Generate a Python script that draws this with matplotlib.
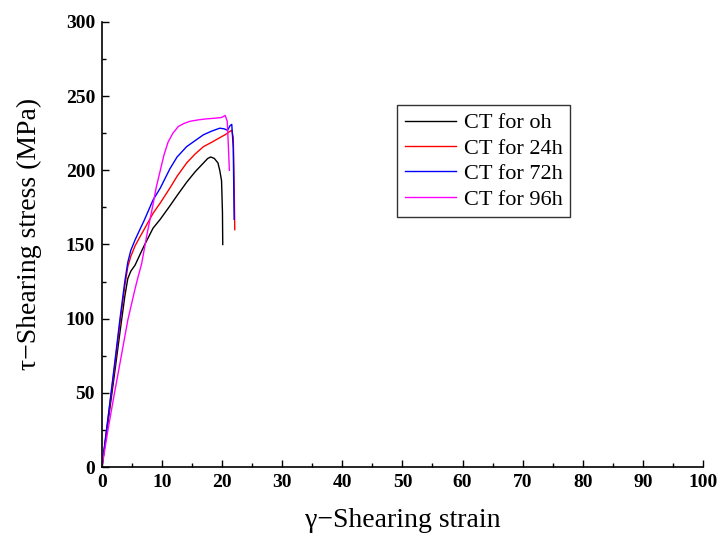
import matplotlib
matplotlib.use("Agg")
import matplotlib.pyplot as plt
from matplotlib.ticker import MultipleLocator

plt.rcParams['font.family'] = ['Liberation Serif', 'DejaVu Serif']

x_0h = [0, 1, 2, 3, 3.8, 4.3, 4.8, 5.5, 6.3, 7.0, 8.5, 9.7, 11.3, 12.5, 14.1, 15.5, 16.9, 17.6, 18.1, 18.7, 19.3, 19.6, 19.9, 20.05, 20.1]
y_0h = [0, 30, 60, 91, 115, 127, 132, 136, 143, 149, 161, 167, 176, 183, 192, 199, 205, 208, 209, 208, 205, 200, 193, 172, 150]

x_24h = [0, 1, 2, 3, 3.8, 4.3, 4.8, 5.5, 6.3, 7.0, 8.5, 9.7, 11.3, 12.5, 14.1, 15.5, 16.9, 18.3, 19.6, 20.5, 21.2, 21.6, 21.85, 22.0, 22.1]
y_24h = [0, 32, 64, 97, 122, 135, 142, 149, 155, 160, 171, 178, 188, 196, 205, 211, 216, 219, 222, 224, 226, 227, 222, 190, 160]

x_72h = [0, 1, 2, 3, 3.8, 4.3, 4.8, 5.5, 6.3, 7.0, 8.5, 9.7, 11.3, 12.5, 14.1, 15.5, 16.9, 18.3, 19.6, 20.3, 20.9, 21.3, 21.6, 21.85, 22.0]
y_72h = [0, 33, 66, 100, 125, 138, 146, 153, 160, 166, 180, 188, 201, 209, 216, 220, 224, 226.5, 228.4, 228, 227, 230, 231, 215, 167]

x_96h = [0, 1, 2, 3, 4.3, 5.5, 6.0, 6.6, 7.5, 8.5, 9.0, 9.65, 10.3, 11.0, 11.8, 12.7, 13.6, 14.6, 16.0, 17.4, 18.7, 19.9, 20.5, 20.85, 21.05, 21.2]
y_96h = [0, 25, 48, 70, 99, 120, 128, 137, 157, 177, 188, 199, 210, 219, 225, 229.5, 231.5, 233, 234, 234.7, 235.1, 235.6, 237, 233, 215, 200]

series = [
    (x_0h, y_0h, 'black', 'CT for oh'),
    (x_24h, y_24h, 'red', 'CT for 24h'),
    (x_72h, y_72h, 'blue', 'CT for 72h'),
    (x_96h, y_96h, 'magenta', 'CT for 96h'),
]

fig = plt.figure(figsize=(7.18, 5.36), dpi=100)
ax = fig.add_axes([0.142, 0.1287, 0.837, 0.8303])

for xs, ys, c, lab in series:
    ax.plot(xs, ys, color=c, lw=1.0, label=lab)

ax.set_xlim(0, 100)
ax.set_ylim(0, 300)
ax.xaxis.set_major_locator(MultipleLocator(10))
ax.xaxis.set_minor_locator(MultipleLocator(5))
ax.yaxis.set_major_locator(MultipleLocator(50))
ax.yaxis.set_minor_locator(MultipleLocator(25))
ax.spines['top'].set_visible(False)
ax.spines['right'].set_visible(False)
ax.spines['left'].set_linewidth(1.2)
ax.spines['bottom'].set_linewidth(1.2)
ax.tick_params(which='both', direction='in', width=1.0)
ax.tick_params(which='major', length=5, pad=5)
ax.tick_params(which='minor', length=3)
for lbl in ax.get_xticklabels() + ax.get_yticklabels():
    lbl.set_fontweight('bold')
    lbl.set_fontsize(14)

ax.set_xlabel('γ−Shearing strain', fontsize=20, labelpad=12)
ax.set_ylabel('τ−Shearing stress (MPa)', fontsize=20)
ax.yaxis.set_label_coords(-0.1003, 0.524)

leg = ax.legend(loc='upper left', bbox_to_anchor=(0.491, 0.8135), fontsize=16,
                frameon=True, fancybox=False, edgecolor='black', borderaxespad=0,
                handlelength=2.3, borderpad=0.35, labelspacing=0.22, handletextpad=0.35)
leg.get_frame().set_linewidth(1.0)

fig.savefig('out.png', dpi=100)
